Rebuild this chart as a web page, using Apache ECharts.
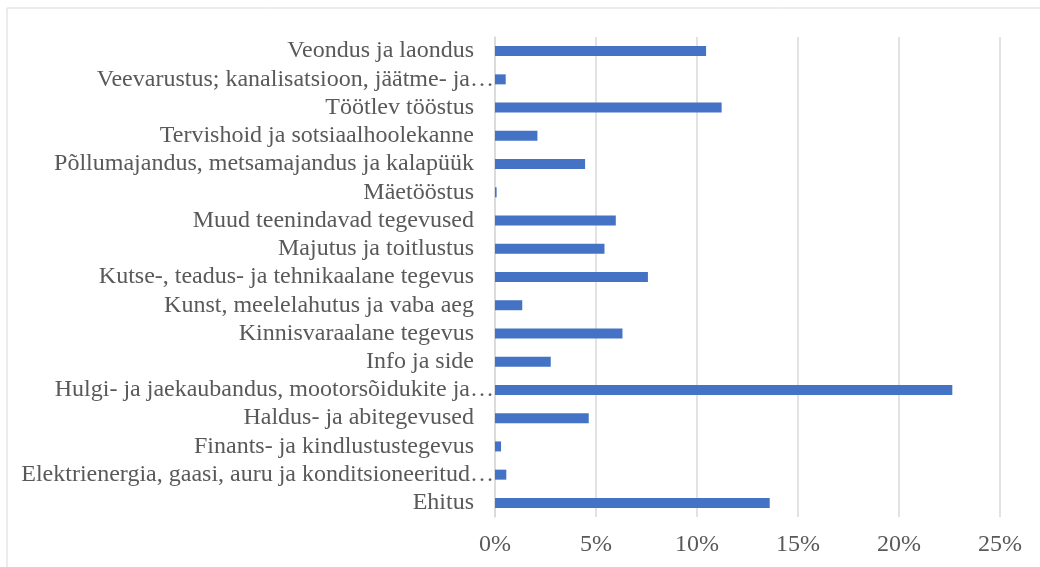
<!DOCTYPE html>
<html>
<head>
<meta charset="utf-8">
<script src="https://cdn.jsdelivr.net/npm/echarts@6/dist/echarts.min.js"></script>
<style>
    html, body { margin: 0; padding: 0; background: #fff; }
    #chart { width: 1040px; height: 567px; }
</style>
</head>
<body>
<div id="chart"></div>
<script>
// tegevusalad, alt ules (Ehitus all)
var categories = [
    'Ehitus',
    'Elektrienergia, gaasi, auru ja konditsioneeritud…',
    'Finants- ja kindlustustegevus',
    'Haldus- ja abitegevused',
    'Hulgi- ja jaekaubandus, mootorsõidukite ja…',
    'Info ja side',
    'Kinnisvaraalane tegevus',
    'Kunst, meelelahutus ja vaba aeg',
    'Kutse-, teadus- ja tehnikaalane tegevus',
    'Majutus ja toitlustus',
    'Muud teenindavad tegevused',
    'Mäetööstus',
    'Põllumajandus, metsamajandus ja kalapüük',
    'Tervishoid ja sotsiaalhoolekanne',
    'Töötlev tööstus',
    'Veevarustus; kanalisatsioon, jäätme- ja…',
    'Veondus ja laondus'
];
// osakaal, %
var values = [13.6, 0.56, 0.3, 4.64, 22.64, 2.76, 6.31, 1.35, 7.57, 5.42, 5.98, 0.08, 4.46, 2.1, 11.22, 0.53, 10.45];
var xTicks = [0, 5, 10, 15, 20, 25];

var labelColor = '#595959';
var font = '"Liberation Serif", "Times New Roman", serif';

function isCut(s) {
    return s.charAt(s.length - 1) === '…';
}

var myChart = echarts.init(document.getElementById('chart'));
var option = {
    animation: false,
    backgroundColor: '#fff',
    graphic: [{
        type: 'rect',
        shape: { x: 7, y: 8, width: 1100, height: 600 },
        style: { fill: 'none', stroke: '#d9d9d9', lineWidth: 1 },
        silent: true
    }],
    grid: {
        left: 495,
        right: 40,
        top: 37,
        bottom: 50
    },
    xAxis: {
        type: 'value',
        min: xTicks[0],
        max: xTicks[xTicks.length - 1],
        interval: 5,
        axisLine: { show: false },
        axisTick: { show: false },
        splitLine: { lineStyle: { color: '#d9d9d9', width: 1.5 } },
        axisLabel: {
            color: labelColor,
            fontFamily: font,
            fontSize: 24,
            margin: 16,
            formatter: function(v) { return v + '%'; }
        }
    },
    yAxis: [{
        type: 'category',
        data: categories,
        axisLine: { lineStyle: { color: '#d9d9d9', width: 1.5 } },
        axisTick: { show: false },
        axisLabel: {
            color: labelColor,
            fontFamily: font,
            fontSize: 24,
            margin: 21,
            interval: 0,
            formatter: function(v) { return isCut(v) ? '' : v; }
        }
    }, {
        // pikad sildid ulatuvad teljeni
        type: 'category',
        position: 'left',
        data: categories,
        axisLine: { show: false },
        axisTick: { show: false },
        axisLabel: {
            color: labelColor,
            fontFamily: font,
            fontSize: 24,
            margin: 1,
            interval: 0,
            formatter: function(v) { return isCut(v) ? v : ''; }
        }
    }],
    series: [{
        name: 'Osakaal',
        type: 'bar',
        data: values,
        barWidth: 10,
        itemStyle: { color: '#4472c4' }
    }]
};
myChart.setOption(option);
</script>
</body>
</html>
